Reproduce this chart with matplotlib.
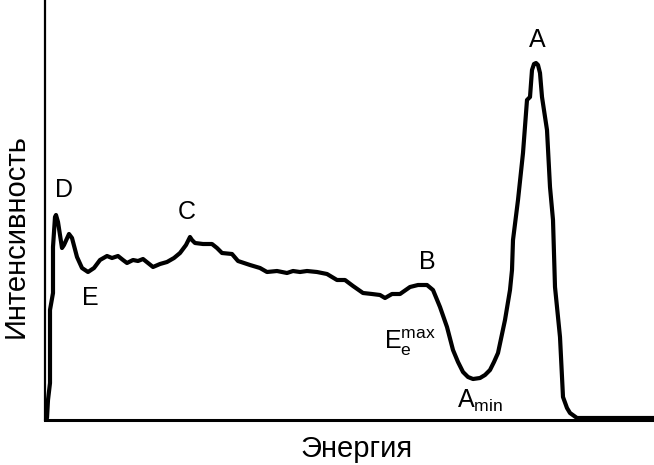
import matplotlib
matplotlib.use("Agg")
import matplotlib.pyplot as plt

plt.rcParams['font.family'] = ['Liberation Sans', 'DejaVu Sans']
plt.rcParams['mathtext.fontset'] = 'custom'
plt.rcParams['mathtext.rm'] = 'Liberation Sans'
plt.rcParams['mathtext.it'] = 'Liberation Sans'

energy = [2, 3, 5, 5, 8, 8, 10, 11, 13, 17, 19, 24, 27, 32, 37, 43, 49, 55, 62, 67,
          73, 78, 82, 88, 93, 98, 103, 108, 115, 122, 129, 135, 141, 145, 147, 150,
          158, 167, 172, 177, 187, 193, 205, 215, 222, 232, 242, 248, 255, 262, 272,
          282, 292, 300, 308, 318, 327, 335, 340, 347, 355, 365, 373, 382, 388, 395,
          402, 408, 413, 418, 423, 428, 435, 440, 445, 449, 453, 460, 465, 467, 468,
          473, 478, 482, 485, 487, 489, 491, 493, 495, 497, 502, 505, 508, 510, 515,
          518, 522, 525, 532, 609]
intensity = [2, 20, 37, 110, 127, 173, 203, 205, 198, 172, 175, 186, 182, 163, 152,
             148, 152, 160, 164, 162, 164, 160, 157, 160, 159, 161, 157, 153, 156,
             158, 162, 167, 175, 183, 180, 177, 176, 176, 172, 167, 166, 159, 155,
             152, 148, 149, 147, 149, 148, 149, 148, 146, 140, 140, 134, 127, 126,
             125, 122, 126, 126, 133, 135, 135, 130, 113, 93, 70, 58, 48, 43, 41, 42,
             45, 50, 58, 67, 100, 130, 150, 180, 220, 267, 320, 323, 350, 356, 357,
             355, 347, 323, 290, 233, 200, 133, 83, 23, 12, 7, 2, 2]

labels = ['A', 'B', 'C', 'D', 'E']
label_x = [492, 382, 142, 19, 45]
label_y = [380, 158, 208, 230, 122]

fig = plt.figure(figsize=(6.54, 4.65), dpi=100)
ax = fig.add_axes([45 / 654, 45 / 465, 609 / 654, 420 / 465])
ax.plot(energy, intensity, color='black', linewidth=3.0, solid_joinstyle='round',
        solid_capstyle='round')
ax.set_xlim(0, 609)
ax.set_ylim(0, 420)
ax.set_xticks([])
ax.set_yticks([])
for s in ['top', 'right']:
    ax.spines[s].set_visible(False)
ax.spines['left'].set_linewidth(1.6)
ax.spines['bottom'].set_linewidth(2.2)

for t, x, y in zip(labels, label_x, label_y):
    ax.text(x, y, t, fontsize=18, ha='center', va='center')
ax.text(339, 77, r'$\mathrm{E_e^{max}}$', fontsize=18, ha='left', va='center')
ax.text(412, 19, r'$\mathrm{A_{min}}$', fontsize=18, ha='left', va='center')

ax.set_xlabel('Энергия', fontsize=21, va='center')
ax.set_ylabel('Интенсивность', fontsize=21, va='center')
ax.xaxis.set_label_coords((357 - 45) / 609, -(449 - 420) / 420)
ax.yaxis.set_label_coords(-(45 - 16) / 609, (420 - 236) / 420)

fig.savefig('out.png', dpi=100)
